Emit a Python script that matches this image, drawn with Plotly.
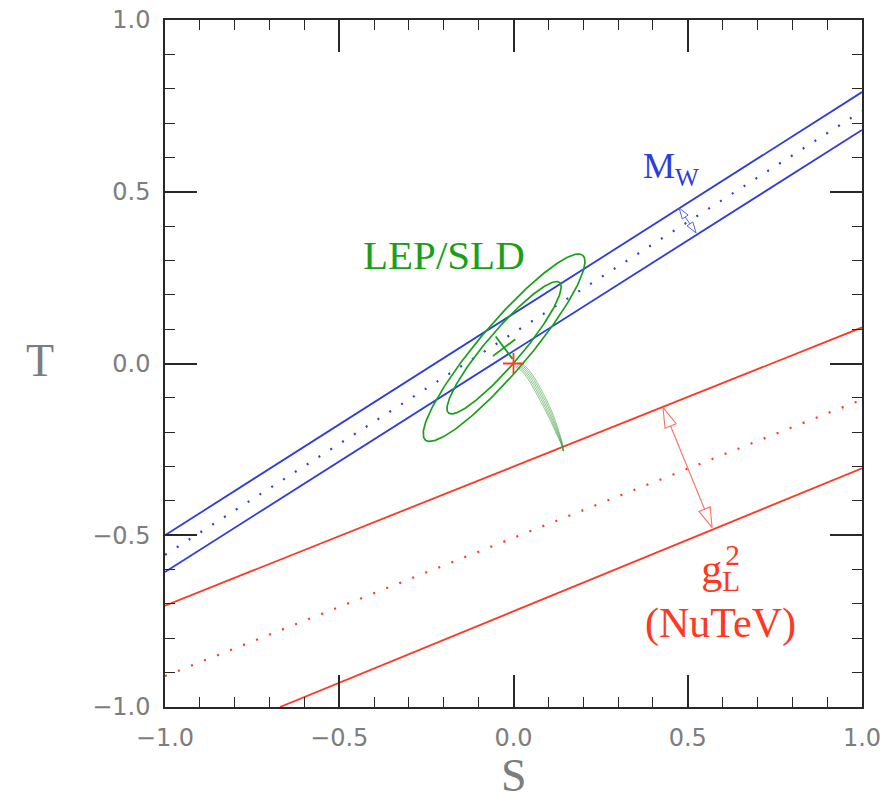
import numpy as np
import plotly.graph_objects as go

# ---- electroweak oblique parameters: S-T plane ----
S_RANGE = [-1.0, 1.0]
T_RANGE = [-1.0, 1.0]
TICK_VALS = [-1.0, -0.5, 0.0, 0.5, 1.0]

# M_W band (central value and 1 sigma edges)
MW_S = [-1.0, 1.0]
MW_UPPER_T = [-0.500, 0.790]
MW_CENTRAL_T = [-0.557, 0.735]
MW_LOWER_T = [-0.607, 0.680]

# NuTeV g_L^2 band
NUTEV_S = [-1.0, 1.0]
NUTEV_UPPER_T = [-0.705, 0.105]
NUTEV_CENTRAL_T = [-0.910, -0.105]
NUTEV_LOWER_S = [-0.670, 1.0]
NUTEV_LOWER_T = [-1.000, -0.305]

# LEP/SLD fit: centre, semi-axes of the two CL contours, orientation
LEP_CENTER = (-0.027, 0.046)
LEP_SEMI_MAJOR = [0.248, 0.351]
LEP_SEMI_MINOR = [0.050, 0.071]
LEP_ANGLE_DEG = 50.0

# SM reference point
SM_REF = (0.0, 0.0)

# SM predictions (Higgs mass scan) for a few top masses
SM_CURVES_S = [
    [0.0068, 0.024, 0.039, 0.0544, 0.0702, 0.0886, 0.107, 0.124, 0.136, 0.143],
    [0.0094, 0.027, 0.0425, 0.0582, 0.0741, 0.0923, 0.110, 0.126, 0.137, 0.143],
    [0.012, 0.030, 0.046, 0.062, 0.078, 0.096, 0.113, 0.128, 0.138, 0.143],
    [0.0146, 0.033, 0.0495, 0.0658, 0.0819, 0.0997, 0.116, 0.130, 0.139, 0.143],
    [0.0172, 0.036, 0.053, 0.0696, 0.0858, 0.1034, 0.119, 0.132, 0.140, 0.143],
]
SM_CURVES_T = [
    [-0.0108, -0.022, -0.041, -0.0662, -0.0958, -0.1314, -0.1684, -0.2066, -0.2328, -0.255],
    [-0.0074, -0.019, -0.0385, -0.0641, -0.0939, -0.1297, -0.1672, -0.2058, -0.2324, -0.255],
    [-0.004, -0.016, -0.036, -0.062, -0.092, -0.128, -0.166, -0.205, -0.232, -0.255],
    [-0.0006, -0.013, -0.0335, -0.0599, -0.0901, -0.1263, -0.1648, -0.2042, -0.2316, -0.255],
    [0.0028, -0.010, -0.031, -0.0578, -0.0882, -0.1246, -0.1636, -0.2034, -0.2312, -0.255],
]

# band-width arrows (start, end)
MW_ARROW_S = [0.475, 0.524]
MW_ARROW_T = [0.453, 0.380]
NUTEV_ARROW_S = [0.429, 0.570]
NUTEV_ARROW_T = [-0.128, -0.478]

BLUE = "rgb(45,60,220)"
RED = "rgb(255,55,35)"
GREEN = "rgb(25,160,25)"
GREY = "rgb(125,125,125)"
AXIS = "rgb(40,40,40)"

W, H = 884, 803
ML, MR, MT, MB = 165, 22, 20, 96
PX_X = (W - ML - MR) / (S_RANGE[1] - S_RANGE[0])
PX_Y = (H - MT - MB) / (T_RANGE[1] - T_RANGE[0])

fig = go.Figure()


def line(xs, ys, color, width=1.8, dash=None, opacity=1.0):
    fig.add_trace(go.Scatter(
        x=xs, y=ys, mode="lines", opacity=opacity,
        line=dict(color=color, width=width, dash=dash),
        hoverinfo="skip", showlegend=False))


# M_W band
line(MW_S, MW_UPPER_T, BLUE)
line(MW_S, MW_LOWER_T, BLUE)
line(MW_S, MW_CENTRAL_T, BLUE, width=2.2, dash="2px,12px")

# NuTeV band
line(NUTEV_S, NUTEV_UPPER_T, RED)
line(NUTEV_LOWER_S, NUTEV_LOWER_T, RED)
line(NUTEV_S, NUTEV_CENTRAL_T, RED, width=2.2, dash="2px,12px")

# LEP/SLD contours
phi = np.linspace(0, 2 * np.pi, 241)
ang = np.radians(LEP_ANGLE_DEG)
for a, b in zip(LEP_SEMI_MAJOR, LEP_SEMI_MINOR):
    u, v = a * np.cos(phi), b * np.sin(phi)
    xs = LEP_CENTER[0] + u * np.cos(ang) - v * np.sin(ang)
    ys = LEP_CENTER[1] + u * np.sin(ang) + v * np.cos(ang)
    line(xs, ys, GREEN, width=1.7)

# SM prediction strands
for cs, ct in zip(SM_CURVES_S, SM_CURVES_T):
    fig.add_trace(go.Scatter(
        x=cs, y=ct, mode="lines",
        line=dict(color="rgba(45,155,45,0.6)", width=0.9, shape="spline"),
        hoverinfo="skip", showlegend=False))

# best-fit and reference markers
fig.add_trace(go.Scatter(
    x=[LEP_CENTER[0]], y=[LEP_CENTER[1]], mode="markers",
    marker=dict(symbol="cross-thin", size=20, angle=-37,
                line=dict(color=GREEN, width=1.8)),
    hoverinfo="skip", showlegend=False))
fig.add_trace(go.Scatter(
    x=[SM_REF[0]], y=[SM_REF[1]], mode="markers",
    marker=dict(symbol="cross-thin", size=15,
                line=dict(color=RED, width=1.8)),
    hoverinfo="skip", showlegend=False))


def open_arrow(xs, ys, color, head_len, head_w, width=1.0):
    """Double-headed arrow with open triangular heads, sized in pixels."""
    x0, x1 = xs
    y0, y1 = ys
    dxp, dyp = (x1 - x0) * PX_X, (y1 - y0) * PX_Y
    n = np.hypot(dxp, dyp)
    ux, uy = dxp / n, dyp / n
    nx, ny = -uy, ux
    px, py = [], []
    bases = []
    for (tx, ty), sgn in (((x0, y0), 1), ((x1, y1), -1)):
        bx = tx + sgn * head_len * ux / PX_X
        by = ty + sgn * head_len * uy / PX_Y
        lx, ly = bx + head_w / 2 * nx / PX_X, by + head_w / 2 * ny / PX_Y
        rx, ry = bx - head_w / 2 * nx / PX_X, by - head_w / 2 * ny / PX_Y
        px += [tx, lx, rx, tx, None]
        py += [ty, ly, ry, ty, None]
        bases.append((bx, by))
    px += [bases[0][0], bases[1][0], None]
    py += [bases[0][1], bases[1][1], None]
    line(px, py, color, width=width)


open_arrow(NUTEV_ARROW_S, NUTEV_ARROW_T, "rgb(255,110,100)", 20, 12, 1.1)
open_arrow(MW_ARROW_S, MW_ARROW_T, "rgb(80,100,230)", 11, 7, 1.0)

serif = "Liberation Serif"
fig.add_annotation(x=-0.199, y=0.316, text="LEP/SLD",
                   font=dict(family=serif, size=41, color=GREEN))
fig.add_annotation(x=0.366, y=0.568, xanchor="left", text="M<sub>W</sub>",
                   font=dict(family=serif, size=36, color=BLUE))
fig.add_annotation(
    x=0.593, y=-0.668,
    text="g<sub><span style='letter-spacing:-15px'>L</span></sub><sup>2</sup><br>(NuTeV)",
    font=dict(family=serif, size=42, color=RED))
for a in fig.layout.annotations:
    a.update(xref="x", yref="y", showarrow=False)

# axis titles
fig.add_annotation(xref="paper", yref="paper", x=0.5, y=-MB / (H - MT - MB),
                   text="S", showarrow=False, yanchor="bottom",
                   font=dict(family=serif, size=46, color=GREY))
fig.add_annotation(xref="paper", yref="paper", x=-(ML - 40) / (W - ML - MR), y=0.505,
                   text="T", showarrow=False, xanchor="center",
                   font=dict(family=serif, size=46, color=GREY))

axis_common = dict(
    tickmode="array", tickvals=TICK_VALS, tickformat=".1f",
    ticks="inside", ticklen=32, tickwidth=1.5, tickcolor=AXIS,
    minor=dict(dtick=0.1, ticks="inside", ticklen=10, tickwidth=1.3, tickcolor=AXIS),
    showline=True, linecolor=AXIS, linewidth=1.5, mirror="allticks",
    showgrid=False, zeroline=False, automargin=False,
    tickfont=dict(family="DejaVu Sans", size=24, color=GREY),
)
fig.update_xaxes(range=S_RANGE, ticklabelstandoff=8, **axis_common)
fig.update_yaxes(range=T_RANGE, ticklabelstandoff=8, **axis_common)

fig.update_layout(
    template="none",
    width=W, height=H,
    margin=dict(l=ML, r=MR, t=MT, b=MB, autoexpand=False),
    paper_bgcolor="white", plot_bgcolor="white",
    showlegend=False,
)

fig.write_html("out.html")
